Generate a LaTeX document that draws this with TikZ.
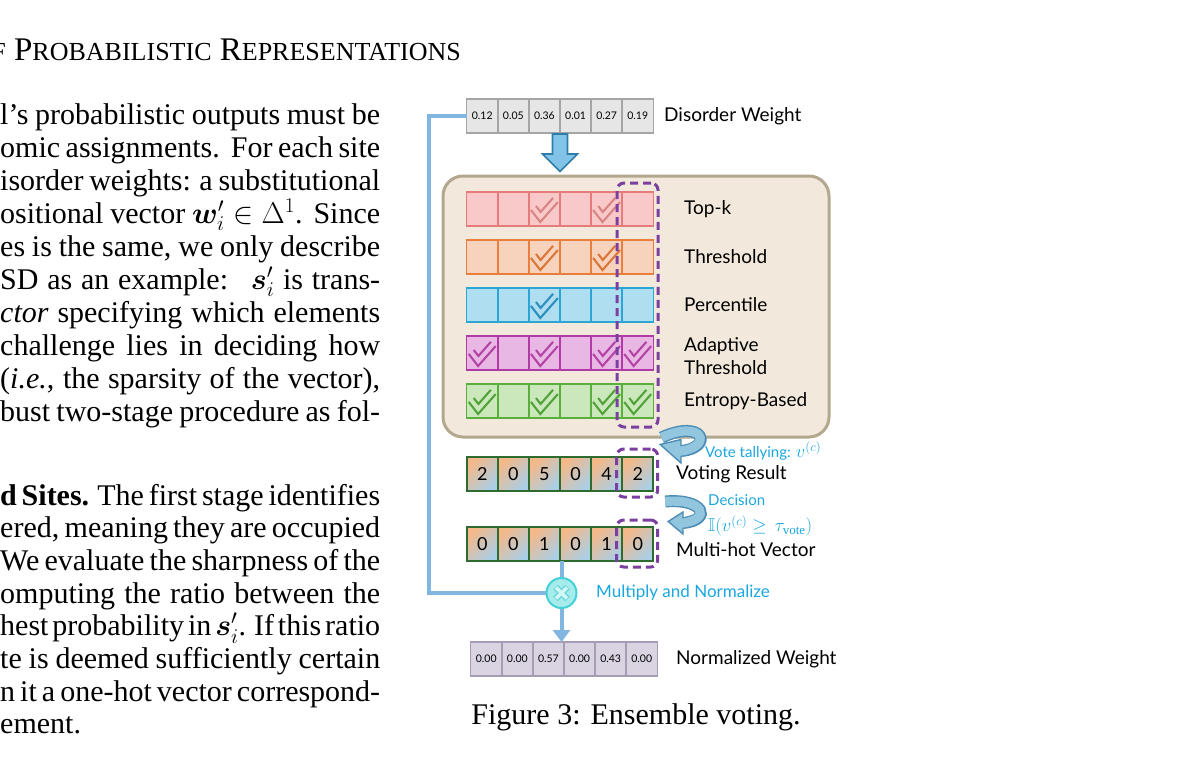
\RequirePackage{fix-cm}
\documentclass[tikz,border=0pt]{standalone}
\usepackage{amsmath,amssymb,bm}
\usepackage{fontspec}
\setmainfont{Liberation Serif}
\newfontfamily\diag{Lato}
\usetikzlibrary{calc,arrows.meta}
\definecolor{dwfill}{HTML}{E6E6E6}\definecolor{dwline}{HTML}{A5A5A5}
\definecolor{tkf}{HTML}{F9C9C9}\definecolor{tkl}{HTML}{E77B7B}\definecolor{tkk}{HTML}{D98585}
\definecolor{thf}{HTML}{F7D3BD}\definecolor{thl}{HTML}{EA7E3C}\definecolor{thk}{HTML}{D9773A}
\definecolor{pcf}{HTML}{AEDEEF}\definecolor{pcl}{HTML}{2BA5D6}\definecolor{pck}{HTML}{2C8FC0}
\definecolor{adf}{HTML}{E9B7E3}\definecolor{adl}{HTML}{B13AA6}\definecolor{adk}{HTML}{B443A6}
\definecolor{enf}{HTML}{CBE8BC}\definecolor{enl}{HTML}{5AAE3C}\definecolor{enk}{HTML}{52A23A}
\definecolor{boxfill}{HTML}{F2E9DC}\definecolor{boxline}{HTML}{B3A78E}
\definecolor{purp}{HTML}{7B3FA0}
\definecolor{vgreen}{HTML}{2E6B2E}
\definecolor{gor}{HTML}{F5B888}\definecolor{gye}{HTML}{EEE2A8}\definecolor{gbl}{HTML}{AACFE6}
\definecolor{nwf}{HTML}{DAD3E2}\definecolor{nwl}{HTML}{A69DB4}
\definecolor{bline}{HTML}{80B6E0}
\definecolor{cafill}{HTML}{92C5DE}\definecolor{caline}{HTML}{4D8DB5}
\definecolor{tafill}{HTML}{82C4E8}\definecolor{taline}{HTML}{2E7DA8}
\definecolor{cyanlab}{HTML}{1AA7E0}
\definecolor{mulf}{HTML}{A6ECEC}\definecolor{mull}{HTML}{45D0D5}\definecolor{mulx}{HTML}{D4F7F7}\definecolor{mulxl}{HTML}{6FD8DC}
\newcommand\smc[1]{{\fontsize{26}{26}\selectfont #1}}
\newcommand\mth[1]{{\fontsize{18.5}{20}\selectfont$#1$}}
\newcommand\jline[1]{\makebox[380pt][s]{\spaceskip=0.2em plus 1em minus 0.1em\relax #1}}
\newcommand\chk[3]{%
  \draw[line width=8.5pt,#2,line join=miter] ([shift={(-11pt,1pt)}]#1.center) -- ([shift={(-4pt,-8pt)}]#1.center) -- ([shift={(11pt,9pt)}]#1.center);
  \draw[line width=4pt,#3,line join=miter,shorten <=-0.8pt,shorten >=-0.8pt] ([shift={(-11pt,1pt)}]#1.center) -- ([shift={(-4pt,-8pt)}]#1.center) -- ([shift={(11pt,9pt)}]#1.center);}
\tikzset{
  cellbase/.style={minimum width=31.1pt,minimum height=34pt,inner sep=0pt,outer sep=0pt,line width=1.5pt},
  dwcell/.style={cellbase,draw=dwline,fill=dwfill,font=\diag\fontsize{10.5}{12}\selectfont},
  tkcell/.style={cellbase,draw=tkl,fill=tkf},
  thcell/.style={cellbase,draw=thl,fill=thf},
  pccell/.style={cellbase,draw=pcl,fill=pcf},
  adcell/.style={cellbase,draw=adl,fill=adf},
  encell/.style={cellbase,draw=enl,fill=enf},
  vcell/.style={cellbase,draw=vgreen,line width=2.2pt,top color=gor,middle color=gye,bottom color=gbl,shading angle=45,font=\diag\fontsize{18}{20}\selectfont},
  nwcell/.style={cellbase,draw=nwl,fill=nwf,font=\diag\fontsize{10.5}{12}\selectfont},
  pdash/.style={draw=purp,line width=3pt,dash pattern=on 8pt off 5pt,rounded corners=7pt,inner sep=0pt},
  lab/.style={anchor=west,inner sep=0pt,font=\diag\fontsize{19}{23}\selectfont,align=left},
  blab/.style={anchor=west,inner sep=0pt,text=cyanlab,font=\diag\fontsize{15}{17}\selectfont},
  blueline/.style={draw=bline,line width=4pt},
  body/.style={anchor=base west,inner sep=0pt,font=\fontsize{30}{33}\selectfont},
}
\begin{document}
\begin{tikzpicture}[x=1pt,y=-1pt]
\useasboundingbox (0,0) rectangle (1186,779);
\fill[white] (0,0) rectangle (1186,779);
% ---------- page text ----------
\node[anchor=base east,inner sep=0pt,font=\fontsize{33}{33}\selectfont] (hdr) at (461,60) {\smc{OF} P\smc{ROBABILISTIC} R\smc{EPRESENTATIONS}};
\foreach \t [count=\k] in {%
  {l’s probabilistic outputs must be},
  {omic assignments.\ \ For each site},
  {isorder weights: a substitutional},
  {ositional vector $\bm{w}'_i \in \Delta^1$. Since},
  {es is the same, we only describe},
  {SD as an example: \ $\bm{s}'_i$ is trans-},
  {\textit{ctor} specifying which elements},
  {challenge lies in deciding how},
  {(\textit{i.e.}, the sparsity of the vector),},
  {bust two-stage procedure as fol-}}
  \node[body] (pa\k) at (0,{124+33.05*(\k-1)}) {\jline{\t}};
\foreach \t [count=\k] in {%
  {\textbf{d Sites.} The first stage identifies},
  {ered, meaning they are occupied},
  {We evaluate the sharpness of the},
  {omputing the ratio between the},
  {hest probability in $\bm{s}'_i$. If this ratio},
  {te is deemed sufficiently certain},
  {n it a one-hot vector correspond-}}
  \node[body] (pb\k) at (0,{505+32.7*(\k-1)}) {\jline{\t}};
\node[body] (pb8) at (0,{505+32.7*7}) {ement.};
% ---------- disorder weight row ----------
\foreach \v [count=\i] in {0.12,0.05,0.36,0.01,0.27,0.19}
  \node[dwcell] (dw\i) at ({466.7+15.55+31.1*(\i-1)},116) {\v};
\node[lab] (ldw) at (664,116) {Disorder Weight};
% block arrow
\coordinate (ta) at (dw3.south east);
\filldraw[fill=tafill,draw=taline,line width=1.6pt,line join=miter] ([yshift=-1pt]ta) ++(-7.5,0) -- ++(0,20) -- ++(-10,0) -- ++(17.5,17.5) -- ++(17.5,-17.5) -- ++(-10,0) -- ++(0,-20) -- cycle;
% ---------- big box ----------
\node[draw=boxline,fill=boxfill,line width=3pt,rounded corners=20pt,minimum width=386pt,minimum height=261pt,inner sep=0pt] (box) at (636,306.5) {};
\foreach \nm/\yy in {tk/209,th/257,pc/305,ad/353,en/401}
  \foreach \i in {1,...,6}
    \node[\nm cell] (\nm\i) at ({466.7+15.55+31.1*(\i-1)},\yy) {};
\chk{tk3}{tkk}{tkf}\chk{tk5}{tkk}{tkf}
\chk{th3}{thk}{thf}\chk{th5}{thk}{thf}
\chk{pc3}{pck}{pcf}
\chk{ad1}{adk}{adf}\chk{ad3}{adk}{adf}\chk{ad5}{adk}{adf}\chk{ad6}{adk}{adf}
\chk{en1}{enk}{enf}\chk{en3}{enk}{enf}\chk{en5}{enk}{enf}\chk{en6}{enk}{enf}
\node[lab] (ltk) at (684,209) {Top-k};
\node[lab] (lth) at (684,257) {Threshold};
\node[lab] (lpc) at (684,305) {Percentile};
\node[lab] (lad) at (684,356) {Adaptive\\Threshold};
\node[lab] (len) at (684,401) {Entropy-Based};
\node[pdash,minimum width=41pt,minimum height=244pt] (pd1) at (637.5,305) {};
% ---------- voting result ----------
\foreach \v [count=\i] in {2,0,5,0,4,2}
  \node[vcell] (vr\i) at ({466.7+15.55+31.1*(\i-1)},474) {\v};
\node[pdash,minimum width=41pt,minimum height=48pt] (pd2) at (637.2,473) {};
\node[lab] (lvr) at (676,474) {Voting Result};
\node[blab] (lvt) at (705,451) {Vote tallying: \mth{v^{(c)}}};
% ---------- multi-hot ----------
\foreach \v [count=\i] in {0,0,1,0,1,0}
  \node[vcell] (mh\i) at ({466.7+15.55+31.1*(\i-1)},544) {\v};
\node[pdash,minimum width=41pt,minimum height=47pt] (pd3) at (637.2,543.5) {};
\node[lab] (lmh) at (676,550) {Multi-hot Vector};
\node[blab] (ldec) at (708,500) {Decision};
\node[blab] (lind) at (708,526) {\mth{\mathbb{I}(v^{(c)} \geq \,\tau_{\mathrm{vote}})}};
% ---------- curved arrows ----------
\coordinate (c1s) at ([shift={(2pt,-9pt)}]pd1.south east);
\coordinate (c1e) at (681,451);
\draw[line width=12pt,caline] (c1s) .. controls (704,418) and (714,448) .. (c1e);
\filldraw[fill=cafill,draw=caline,line width=1.4pt,line join=miter] (681,439.5) -- ([shift={(1pt,3pt)}]pd2.north east) -- (681,463) -- cycle;
\draw[line width=9.2pt,cafill,shorten >=-2pt] (c1s) .. controls (704,418) and (714,448) .. (c1e);
\coordinate (c2s) at ([shift={(6pt,-3pt)}]pd2.south east);
\coordinate (c2e) at (683,523);
\draw[line width=12pt,caline] (c2s) .. controls (704,498) and (713,520) .. (c2e);
\filldraw[fill=cafill,draw=caline,line width=1.4pt,line join=miter] (683,512) -- ([shift={(9pt,-3pt)}]pd3.north east) -- (683,534) -- cycle;
\draw[line width=9.2pt,cafill,shorten >=-2pt] (c2s) .. controls (704,498) and (713,520) .. (c2e);
% ---------- multiply ----------
\node[circle,minimum size=30pt,inner sep=0pt,fill=mulf,draw=mull,line width=2pt] (mul) at (561.5,593) {};
\draw[line width=6.5pt,mulxl] ([shift={(-6pt,-6pt)}]mul.center) -- ([shift={(6pt,6pt)}]mul.center);
\draw[line width=6.5pt,mulxl] ([shift={(-6pt,6pt)}]mul.center) -- ([shift={(6pt,-6pt)}]mul.center);
\draw[line width=3.5pt,mulx,shorten <=0.8pt,shorten >=0.8pt] ([shift={(-6pt,-6pt)}]mul.center) -- ([shift={(6pt,6pt)}]mul.center);
\draw[line width=3.5pt,mulx,shorten <=0.8pt,shorten >=0.8pt] ([shift={(-6pt,6pt)}]mul.center) -- ([shift={(6pt,-6pt)}]mul.center);
\node[blab,font=\diag\fontsize{17}{20}\selectfont] (lmul) at (596,593) {Multiply and Normalize};
% ---------- normalized weight ----------
\foreach \v [count=\i] in {0.00,0.00,0.57,0.00,0.43,0.00}
  \node[nwcell] (nw\i) at ({470.7+15.55+31.1*(\i-1)},659) {\v};
\node[lab] (lnw) at (676,659) {Normalized Weight};
% ---------- blue connectors ----------
\draw[blueline] (dw1.west) -| (429,593) -- (mul.west);
\draw[blueline] (mul.north |- mh3.south) -- (mul.north);
\draw[blueline,-{Triangle[width=17pt,length=12pt]}] (mul.south) -- (mul.south |- nw1.north);
% ---------- caption ----------
\node[inner sep=0pt,font=\fontsize{30}{33}\selectfont] (cap) at (636,717) {Figure 3: Ensemble voting.};
\end{tikzpicture}
\end{document}
